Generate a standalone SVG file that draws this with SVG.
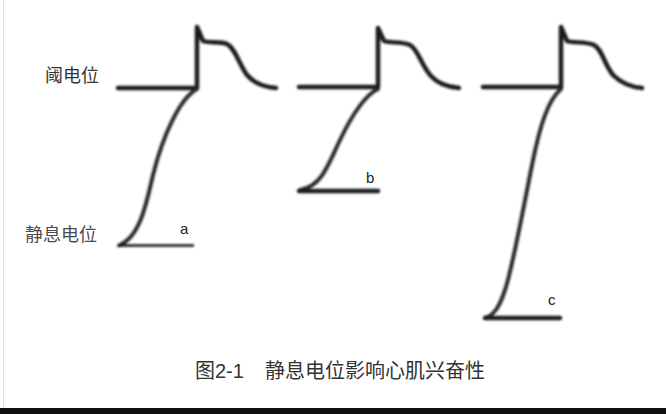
<svg xmlns="http://www.w3.org/2000/svg" width="666" height="414" viewBox="0 0 666 414">
<defs>
<filter id="soft" x="-5%" y="-5%" width="110%" height="110%"><feGaussianBlur stdDeviation="0.8"/></filter>
</defs>
<style>
.ap{fill:none;stroke:#1a1a1a;stroke-width:4.5;stroke-linecap:round;stroke-linejoin:round}
.up{fill:none;stroke:#2a2a2a;stroke-width:4;stroke-linecap:round}
.thin{fill:none;stroke:#111;stroke-width:2.6}
.lab{font-family:"Liberation Sans","Noto Sans CJK SC",sans-serif;font-size:18px;fill:#4a4a4a}
.let{font-family:"Liberation Sans",sans-serif;font-size:15px;fill:#222}
.cap{font-family:"Liberation Sans","Noto Sans CJK SC",sans-serif;font-size:20px;fill:#333}
</style>
<rect width="666" height="414" fill="#fff"/>
<line x1="3.5" y1="0" x2="3.5" y2="408" stroke="#e2e2e2" stroke-width="1"/>
<rect x="0" y="408" width="666" height="6" fill="#111"/>
<g id="labels">
<text class="lab" x="45" y="82" style="fill:#333">阈电位</text>
<text class="lab" x="25" y="241">静息电位</text>
</g>
<g id="curves" filter="url(#soft)">
<g id="curve-a">
<path class="ap" d="M118,88 H197 V27 L203,41 C210,43.5 219,41 227,44 C235,48 239,64 247,75 C254,83 264,87 276,88"/>
<path class="up" d="M197,89 C180,98 163,135 153,175 C146,205 140,237 119,245.5"/>
<path class="thin" d="M119,245.5 H194"/>
</g>
<g id="curve-b">
<path class="ap" d="M299,87 H378 V28 L384,41 C391,43.5 401,41 410,45 C418,49 421,65 431,76 C438,84 448,87 459,88"/>
<path class="up" d="M378,89 C365,95 352,115 340,140 C328,165 322,186 300,190"/>
<path class="ap" d="M299,191 H378"/>
</g>
<g id="curve-c">
<path class="ap" d="M483,87 H561 V27 L567,41 C574,43.5 585,41 594,45 C602,49 604,64 613,75 C621,83 631,87 642,88"/>
<path class="up" d="M561,89 C548,100 540,125 532,165 C522,215 512,270 505,290 C500,305 495,315 485,318"/>
<path class="ap" d="M485,318 H560"/>
</g>
</g>
<g id="letters">
<text class="let" x="180" y="234">a</text>
<text class="let" x="366" y="183">b</text>
<text class="let" x="548" y="305">c</text>
</g>
<g id="caption">
<text class="cap" x="195" y="378">图2-1</text>
<text class="cap" x="265" y="378">静息电位影响心肌兴奋性</text>
</g>
</svg>
